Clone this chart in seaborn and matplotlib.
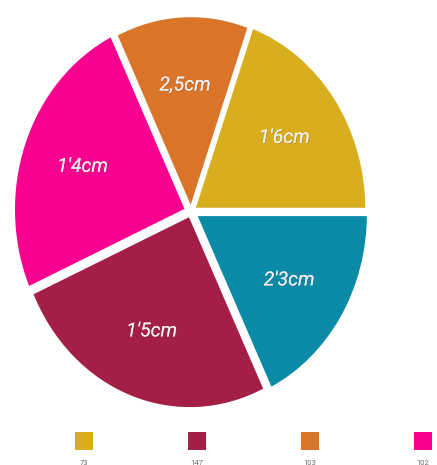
import matplotlib
matplotlib.use("Agg")
import matplotlib.pyplot as plt
import matplotlib.patheffects as pe
import seaborn as sns
import pandas as pd

# Slice data (counter-clockwise from 3 o'clock)
slice_names = ["amarillo", "naranja", "rosa", "granate", "azul"]
slice_values = [70.3, 45.4, 88.2, 91.9, 64.2]
slice_labels = ["1'6cm", "2,5cm", "1'4cm", "1'5cm", "2'3cm"]
slice_colors = ["#D9AE1E", "#DA7428", "#FA008E", "#A31F46", "#0B8AA8"]
slice_explode = [0.02, 0.012, 0.028, 0.02, 0.03]

# Legend entries along the bottom
legend_labels = ["73", "147", "103", "102"]
legend_colors = ["#D9AE1E", "#A31F46", "#DA7428", "#FA008E"]

sns.set_theme(style="white")
plt.rcParams["font.family"] = ["Roboto", "DejaVu Sans"]

W, H = 437, 465
fig = plt.figure(figsize=(W / 100, H / 100), dpi=100)
fig.patch.set_facecolor("white")

# Pie axes (slightly taller than wide)
ax = fig.add_axes([18 / W, 1 - 405 / H, 346 / W, 387 / H])
wedges, texts = ax.pie(
    slice_values,
    labels=slice_labels,
    colors=slice_colors,
    explode=slice_explode,
    startangle=0,
    counterclock=True,
    labeldistance=0.64,
    wedgeprops=dict(edgecolor="white", linewidth=2.2),
    textprops=dict(color="#EFEFEF", fontsize=14, fontstyle="italic", fontweight="normal"),
)
for t in texts:
    t.set_ha("center")
    t.set_va("center")
    t.set_path_effects([pe.withSimplePatchShadow(offset=(0.6, -0.6), shadow_rgbFace="#555555", alpha=0.3), pe.Normal()])
ax.set_aspect("auto")
ax.set_xlim(-1.0, 1.0)
ax.set_ylim(-1.0, 1.0)
ax.axis("off")

# Legend strip: colored squares with values below
lax = fig.add_axes([0, 0, 1, 45 / H])
leg = pd.DataFrame({"pos": range(len(legend_labels)), "y": [0.53] * len(legend_labels),
                    "label": legend_labels})
sns.scatterplot(data=leg, x="pos", y="y", hue="label", palette=legend_colors,
                marker="s", s=165, linewidth=0, legend=False, ax=lax)
for i, lab in enumerate(legend_labels):
    lax.text(i, 0.04, lab, ha="center", va="center", fontsize=5.5, color="#6E6E6E")
step = 113
lax.set_xlim(-84 / step, (W - 84) / step)
lax.set_ylim(0, 1)
lax.axis("off")

fig.savefig("out.png", dpi=100, facecolor="white")
